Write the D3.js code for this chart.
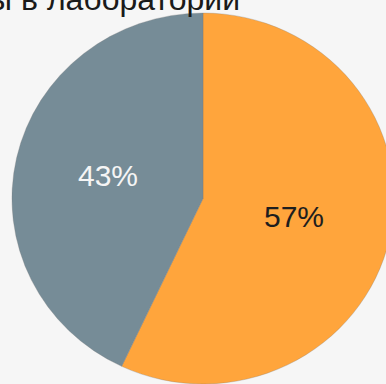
<!DOCTYPE html>
<html><head><meta charset="utf-8">
<script src="https://cdn.jsdelivr.net/npm/d3@7"></script>
<style>body{margin:0;background:#f6f6f6;}svg{display:block;}</style>
</head><body>
<script>
const categories = ["A", "B"];
const values = [57, 43];
const labels = ["57%", "43%"];
const colors = ["#FFA53C", "#768C97"];
const labelColors = ["#1e1e1e", "#f5f5f5"];
const title = "Результаты в лаборатории";

const W = 386, H = 384;
const svg = d3.select("body").append("svg").attr("width", W).attr("height", H);
svg.append("rect").attr("width", W).attr("height", H).attr("fill", "#f6f6f6");

const cx = 203, cy = 198.5, r = 185.5;
const g = svg.append("g").attr("transform", `translate(${cx},${cy}) scale(1.03,1)`);
const pie = d3.pie().sort(null).value(d => d)(values);
const arc = d3.arc().innerRadius(0).outerRadius(r);
g.selectAll("path").data(pie).join("path")
  .attr("d", arc).attr("fill", (d, i) => colors[i])
  .attr("stroke", "rgba(120,120,120,0.35)").attr("stroke-width", 0.8);

const lp = [[91, 18], [-95, -23.5]];
svg.append("g").attr("transform", `translate(${cx},${cy})`)
  .selectAll("text").data(pie).join("text")
  .attr("x", (d, i) => lp[i][0]).attr("y", (d, i) => lp[i][1])
  .attr("text-anchor", "middle").attr("dominant-baseline", "central")
  .attr("font-family", "Liberation Sans, Arial, sans-serif").attr("font-size", 30)
  .attr("fill", (d, i) => labelColors[i]).text((d, i) => labels[i]);

svg.append("text").attr("x", 240).attr("y", 10).attr("text-anchor", "end")
  .attr("font-family", "Liberation Sans, Arial, sans-serif").attr("font-size", 32)
  .attr("fill", "#1a1a1a").text(title);
</script>
</body></html>
